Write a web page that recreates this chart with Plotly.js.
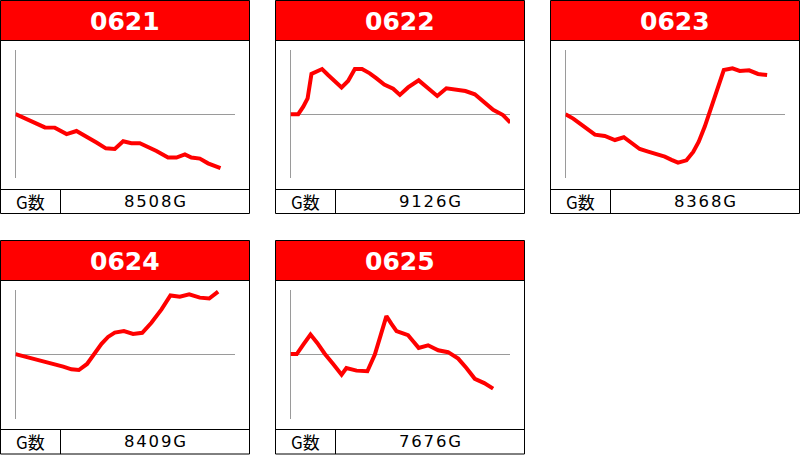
<!DOCTYPE html>
<html>
<head>
<meta charset="utf-8">
<script src="https://cdn.plot.ly/plotly-3.0.1.min.js"></script>
<style>
html,body{margin:0;padding:0;background:#fff;}
#chart{width:800px;height:455px;}
</style>
</head>
<body>
<div id="chart"></div>
<script>
// ---- data ----
const panelLabels = ['0621', '0622', '0623', '0624', '0625'];
const gameCounts = ['8508G', '9126G', '8368G', '8409G', '7676G'];
const rowLabel = 'G数';

const x0621 = [0, 390, 730, 1010, 1220, 1630, 1840, 2120, 2530, 2950, 3360, 3750, 4120, 4470, 4810, 5160, 5500, 5850, 6330, 6680, 7030, 7300, 7650, 7990, 8508];
const y0621 = [0, -200, -380, -540, -620, -630, -770, -930, -790, -1050, -1330, -1600, -1630, -1270, -1360, -1360, -1520, -1720, -2030, -2030, -1880, -2030, -2080, -2300, -2520];

const x0622 = [0, 320, 530, 710, 870, 1080, 1310, 1560, 1840, 2120, 2390, 2670, 2970, 3290, 3570, 3890, 4260, 4540, 4880, 5320, 5710, 6090, 6470, 6890, 7260, 7650, 7990, 8410, 8820, 9126];
const y0622 = [0, 0, 350, 740, 1880, 1990, 2110, 1830, 1550, 1250, 1550, 2110, 2110, 1910, 1670, 1380, 1190, 900, 1250, 1580, 1210, 850, 1210, 1130, 1080, 930, 580, 200, -40, -400];

const x0623 = [0, 320, 730, 1220, 1630, 2050, 2420, 2740, 3080, 3430, 3780, 4120, 4400, 4670, 5020, 5300, 5530, 5780, 6060, 6330, 6570, 6930, 7230, 7620, 7990, 8368];
const y0623 = [0, -210, -550, -960, -1020, -1210, -1080, -1360, -1630, -1750, -1850, -1990, -2140, -2270, -2160, -1770, -1290, -580, 350, 1250, 2060, 2140, 2020, 2050, 1880, 1830];

const x0624 = [0, 460, 940, 1490, 1980, 2320, 2630, 2970, 3290, 3570, 3840, 4120, 4500, 4880, 5260, 5640, 6060, 6430, 6820, 7210, 7650, 8040, 8409];
const y0624 = [0, -130, -260, -410, -580, -710, -740, -460, 50, 480, 800, 1000, 1070, 940, 990, 1460, 2080, 2730, 2670, 2780, 2630, 2590, 2910];

const x0625 = [0, 260, 530, 830, 1110, 1420, 1770, 2120, 2320, 2740, 3190, 3500, 3750, 3980, 4190, 4400, 4670, 4880, 5090, 5320, 5710, 6130, 6540, 6960, 7300, 7650, 8040, 8410];
const y0625 = [0, 0, 440, 910, 520, 20, -460, -960, -650, -770, -800, -20, 910, 1770, 1410, 1070, 960, 880, 600, 290, 410, 180, 90, -210, -650, -1150, -1350, -1610];

const seriesX = [x0621, x0622, x0623, x0624, x0625];
const seriesY = [y0621, y0622, y0623, y0624, y0625];

// ---- layout helpers (pixel -> paper) ----
const W = 800, H = 455;
const fx = p => p / W;
const fy = p => 1 - p / H;

const offsets = [[0, 0], [275, 0], [550, 0], [0, 240], [275, 240]];

const layout = {
  width: W, height: H,
  margin: {l: 0, r: 0, t: 0, b: 0, pad: 0},
  paper_bgcolor: '#ffffff',
  plot_bgcolor: '#ffffff',
  showlegend: false,
  shapes: [],
  annotations: []
};

const traces = [];

offsets.forEach(([ox, oy], i) => {
  const n = i + 1;
  const row2 = oy > 0;
  const plotTop = oy + (row2 ? 49.7 : 50);
  const plotBot = oy + (row2 ? 178.5 : 178.3);
  const cellTop = oy + 189.5;
  const bottom = oy + (row2 ? 214 : 213.5);

  layout['xaxis' + n] = {
    domain: [fx(ox + 15.5), fx(ox + 235)],
    range: [0, 9110],
    anchor: 'y' + n,
    showgrid: false, showticklabels: false, ticks: '', showline: false,
    zeroline: true, zerolinecolor: '#9a9a9a', zerolinewidth: 1,
    fixedrange: true
  };
  layout['yaxis' + n] = {
    domain: [fy(plotBot), fy(plotTop)],
    range: [-3000, 3000],
    anchor: 'x' + n,
    showgrid: false, showticklabels: false, ticks: '', showline: false,
    zeroline: true, zerolinecolor: '#9a9a9a', zerolinewidth: 1,
    fixedrange: true
  };

  traces.push({
    type: 'scatter', mode: 'lines',
    x: seriesX[i], y: seriesY[i],
    xaxis: 'x' + n, yaxis: 'y' + n,
    line: {color: '#ff0000', width: 4},
    hoverinfo: 'skip'
  });

  // header fill
  layout.shapes.push({
    type: 'rect', xref: 'paper', yref: 'paper', layer: 'below',
    x0: fx(ox + 0.5), x1: fx(ox + 249.5), y0: fy(oy + 0.5), y1: fy(oy + 40.5),
    fillcolor: '#ff0000', line: {width: 0}
  });
  // outer frame
  layout.shapes.push({
    type: 'rect', xref: 'paper', yref: 'paper',
    x0: fx(ox + 0.5), x1: fx(ox + 249.5), y0: fy(oy + 0.5), y1: fy(bottom),
    line: {color: '#000000', width: 1}
  });
  // header separator
  layout.shapes.push({
    type: 'line', xref: 'paper', yref: 'paper',
    x0: fx(ox + 0.5), x1: fx(ox + 249.5), y0: fy(oy + 40.5), y1: fy(oy + 40.5),
    line: {color: '#000000', width: 1}
  });
  // bottom cell separator
  layout.shapes.push({
    type: 'line', xref: 'paper', yref: 'paper',
    x0: fx(ox + 0.5), x1: fx(ox + 249.5), y0: fy(cellTop), y1: fy(cellTop),
    line: {color: '#000000', width: 1}
  });
  // cell divider
  layout.shapes.push({
    type: 'line', xref: 'paper', yref: 'paper',
    x0: fx(ox + 60.5), x1: fx(ox + 60.5), y0: fy(cellTop), y1: fy(bottom),
    line: {color: '#000000', width: 1}
  });

  const cellMid = (cellTop + bottom) / 2;
  layout.annotations.push({
    xref: 'paper', yref: 'paper', x: fx(ox + 125), y: fy(oy + 21),
    xanchor: 'center', yanchor: 'middle', showarrow: false,
    text: '<b>' + panelLabels[i] + '</b>',
    font: {family: 'DejaVu Sans', size: 25, color: '#ffffff'}
  });
  layout.annotations.push({
    xref: 'paper', yref: 'paper', x: fx(ox + 30.5), y: fy(cellMid),
    xanchor: 'center', yanchor: 'middle', showarrow: false,
    text: rowLabel,
    font: {family: 'Noto Sans CJK JP', size: 17, color: '#000000'}
  });
  layout.annotations.push({
    xref: 'paper', yref: 'paper', x: fx(ox + 156), y: fy(cellMid),
    xanchor: 'center', yanchor: 'middle', showarrow: false,
    text: '<span style="letter-spacing:1.8px">' + gameCounts[i] + '</span>',
    font: {family: 'DejaVu Sans', size: 16.5, color: '#000000'}
  });
});

Plotly.newPlot('chart', traces, layout, {staticPlot: true, displayModeBar: false});
</script>
</body>
</html>
